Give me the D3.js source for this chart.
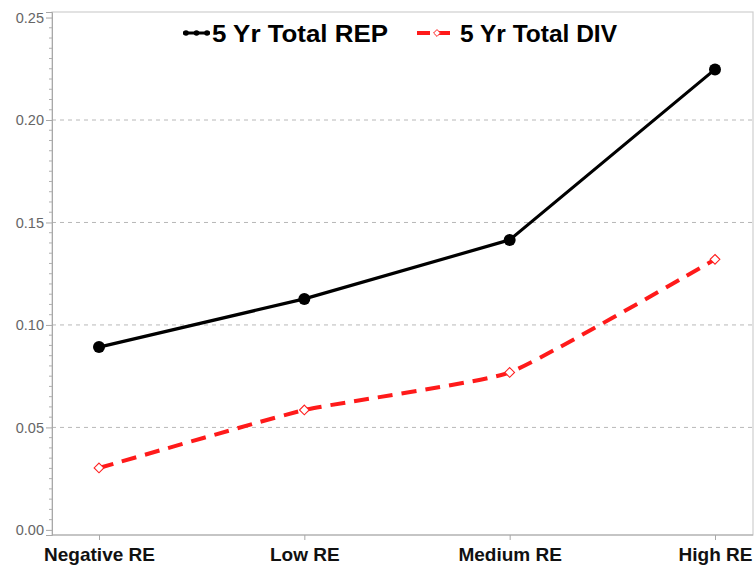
<!DOCTYPE html>
<html><head><meta charset="utf-8">
<script src="https://cdn.jsdelivr.net/npm/d3@7/dist/d3.min.js"></script>
<style>body{margin:0;background:#fff}svg{display:block}</style>
</head><body>
<script>
const categories = ["Negative RE", "Low RE", "Medium RE", "High RE"];
const repValues = [0.0892, 0.1127, 0.1415, 0.2247];
const divValues = [0.0302, 0.0585, 0.0768, 0.1320];
const yTicks = [0.00, 0.05, 0.10, 0.15, 0.20, 0.25];
const seriesNames = ["5 Yr Total REP", "5 Yr Total DIV"];

const W = 754, H = 566;
const mLeft = 52, mRight = 753, mTop = 12, mBottom = 535;
const svg = d3.select("body").append("svg").attr("width", W).attr("height", H);

const x = d3.scalePoint().domain(categories).range([99, 715]);
const y = d3.scaleLinear().domain([-0.0025, 0.2527]).range([mBottom, mTop]);

// frame
svg.append("rect").attr("x", mLeft).attr("y", mTop).attr("width", mRight - mLeft).attr("height", mBottom - mTop)
  .attr("fill", "none").attr("stroke", "#cfcfcf").attr("stroke-width", 1.2);

// grid
svg.append("g").selectAll("line").data(yTicks.filter(d => d > 0 && d < 0.25)).join("line")
  .attr("x1", mLeft).attr("x2", mRight).attr("y1", d => y(d)).attr("y2", d => y(d))
  .attr("stroke", "#b8b8b8").attr("stroke-width", 1).attr("stroke-dasharray", "4,4");

// y axis
const yAxis = d3.axisLeft(y).tickValues(yTicks).tickFormat(d3.format(".2f")).tickSize(6).tickPadding(2);
const gy = svg.append("g").attr("transform", `translate(${mLeft},0)`).call(yAxis);
gy.select(".domain").attr("stroke", "#a8a8a8");
gy.selectAll(".tick line").attr("stroke", "#a8a8a8");
gy.selectAll("text").attr("fill", "#666").style("font-family", "Liberation Sans, Arial, sans-serif").style("font-size", "14.5px");
const minor = d3.range(0, 0.2526, 0.005).filter(v => Math.abs(v * 20 - Math.round(v * 20)) > 1e-6);
gy.append("g").selectAll("line").data(minor).join("line")
  .attr("x1", -3).attr("x2", 0).attr("y1", d => y(d)).attr("y2", d => y(d)).attr("stroke", "#b0b0b0");

// x axis
const xAxis = d3.axisBottom(x).tickSize(5).tickPadding(8);
const gx = svg.append("g").attr("transform", `translate(0,${mBottom})`).call(xAxis);
gx.select(".domain").remove();
gx.selectAll(".tick line").attr("stroke", "#a8a8a8");
gx.selectAll("text").attr("fill", "#111").style("font-family", "Liberation Sans, Arial, sans-serif")
  .style("font-size", "19px").style("font-weight", "bold").attr("dy", "0.68em");
svg.append("line").attr("x1", mLeft).attr("x2", mRight).attr("y1", mBottom).attr("y2", mBottom).attr("stroke", "#a8a8a8");

// lines
const repLine = d3.line().x((d, i) => x(categories[i])).y(d => y(d));
const divLine = d3.line().x((d, i) => x(categories[i])).y(d => y(d)).curve(d3.curveCardinal.tension(0.6));
svg.append("path").datum(repValues).attr("d", repLine).attr("fill", "none").attr("stroke", "#000").attr("stroke-width", 3.2);
svg.append("path").datum(divValues).attr("d", divLine).attr("fill", "none").attr("stroke", "#ff1a1a")
  .attr("stroke-width", 4).attr("stroke-dasharray", "15,9");

svg.append("g").selectAll("circle").data(repValues).join("circle")
  .attr("cx", (d, i) => x(categories[i])).attr("cy", d => y(d)).attr("r", 6).attr("fill", "#000");
const diamond = d3.symbol().type(d3.symbolDiamond2).size(60);
svg.append("g").selectAll("path").data(divValues).join("path")
  .attr("transform", (d, i) => `translate(${x(categories[i])},${y(d)})`).attr("d", diamond)
  .attr("fill", "#fff").attr("stroke", "#ff2020").attr("stroke-width", 1.1);

// legend
const lg = svg.append("g").style("font-family", "Liberation Sans Narrow, Arial Narrow, Liberation Sans, Arial, sans-serif")
  .style("font-weight", "bold").style("font-size", "23px");
lg.append("line").attr("x1", 183).attr("x2", 210).attr("y1", 33).attr("y2", 33).attr("stroke", "#000").attr("stroke-width", 3);
[186, 196.5, 207].forEach(cx => lg.append("circle").attr("cx", cx).attr("cy", 33).attr("r", 2.8).attr("fill", "#000"));
lg.append("text").attr("x", 212).attr("y", 42).text(seriesNames[0]).attr("textLength", 176).attr("lengthAdjust", "spacingAndGlyphs");
lg.append("line").attr("x1", 417).attr("x2", 455).attr("y1", 33).attr("y2", 33).attr("stroke", "#ff1a1a").attr("stroke-width", 4).attr("stroke-dasharray", "13,7");
lg.append("path").attr("transform", "translate(437,33)").attr("d", d3.symbol().type(d3.symbolDiamond2).size(30))
  .attr("fill", "#fff").attr("stroke", "#ff2020").attr("stroke-width", 1);
lg.append("text").attr("x", 460).attr("y", 42).text(seriesNames[1]).attr("textLength", 157).attr("lengthAdjust", "spacingAndGlyphs");
</script>
</body></html>
